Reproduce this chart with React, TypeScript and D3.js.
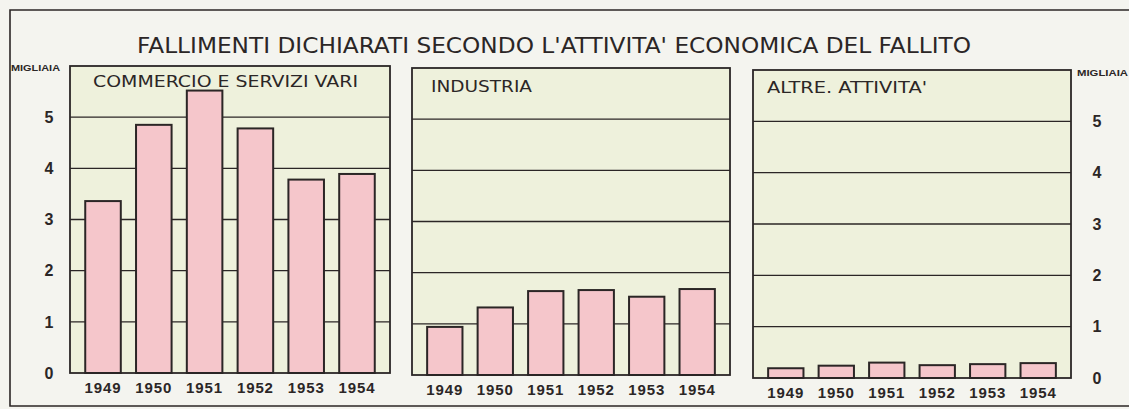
import * as d3 from 'd3'

const years = ['1949', '1950', '1951', '1952', '1953', '1954']

// migliaia di fallimenti
const commercio = [3.36, 4.85, 5.52, 4.78, 3.78, 3.89]
const industria = [0.94, 1.32, 1.64, 1.66, 1.53, 1.68]
const altre = [0.19, 0.24, 0.3, 0.25, 0.27, 0.29]

const yTicks = [0, 1, 2, 3, 4, 5]

const panelTitles = ['COMMERCIO E SERVIZI VARI', 'INDUSTRIA', "ALTRE. ATTIVITA'"]
const chartTitle = "FALLIMENTI DICHIARATI SECONDO L'ATTIVITA' ECONOMICA DEL FALLITO"

const W = 1129
const H = 409
const INK = '#2b2626'
const PAPER = '#f4f4ef'
const PANEL = '#eef1dc'
const PINK = '#f5c6cb'
const FONT = "'Liberation Sans', 'DejaVu Sans', sans-serif"
const LETTER = "'DejaVu Sans', 'Liberation Sans', sans-serif"

type Panel = {
  title: string
  values: number[]
  x0: number
  x1: number
  top: number
  bottom: number
  titleX: number
  titleY: number
  titleLen: number
}

const panels: Panel[] = [
  { title: panelTitles[0], values: commercio, x0: 70, x1: 390, top: 66, bottom: 373, titleX: 93, titleY: 87, titleLen: 265 },
  { title: panelTitles[1], values: industria, x0: 412, x1: 730, top: 68, bottom: 375, titleX: 431, titleY: 92, titleLen: 101 },
  { title: panelTitles[2], values: altre, x0: 753, x1: 1071, top: 70, bottom: 378, titleX: 767, titleY: 93, titleLen: 160 },
]

function PanelChart({ p }: { p: Panel }) {
  const x = d3.scaleBand<string>().domain(years).range([p.x0, p.x1]).paddingInner(0.3).paddingOuter(0.3)
  const y = d3.scaleLinear().domain([0, 6]).range([p.bottom, p.top])
  return (
    <g>
      <rect x={p.x0} y={p.top} width={p.x1 - p.x0} height={p.bottom - p.top} fill={PANEL} />
      {yTicks.slice(1).map((t) => (
        <line key={t} x1={p.x0} x2={p.x1} y1={y(t)} y2={y(t)} stroke={INK} strokeWidth={1.3} />
      ))}
      {years.map((yr, i) => {
        const v = p.values[i]
        return (
          <rect
            key={yr}
            x={x(yr)}
            y={y(v)}
            width={x.bandwidth()}
            height={y(0) - y(v)}
            fill={PINK}
            stroke={INK}
            strokeWidth={2}
          />
        )
      })}
      <rect
        x={p.x0}
        y={p.top}
        width={p.x1 - p.x0}
        height={p.bottom - p.top}
        fill="none"
        stroke={INK}
        strokeWidth={1.8}
      />
      <text
        x={p.titleX}
        y={p.titleY}
        fontFamily={LETTER}
        fontSize={16}
        fill={INK}
        textLength={p.titleLen}
        lengthAdjust="spacingAndGlyphs"
      >
        {p.title}
      </text>
      {years.map((yr) => (
        <text
          key={yr}
          x={(x(yr) ?? 0) + x.bandwidth() / 2}
          y={p.bottom + 20}
          textAnchor="middle"
          fontFamily={FONT}
          fontWeight="bold"
          fontSize={15}
          letterSpacing={0.9}
          fill={INK}
        >
          {yr}
        </text>
      ))}
    </g>
  )
}

export default function App() {
  const left = panels[0]
  const right = panels[2]
  const yl = d3.scaleLinear().domain([0, 6]).range([left.bottom, left.top])
  const yr = d3.scaleLinear().domain([0, 6]).range([right.bottom, right.top])
  return (
    <svg
      width={W}
      height={H}
      viewBox={`0 0 ${W} ${H}`}
      style={{ position: 'absolute', left: 0, top: 0, background: PAPER }}
    >
      <rect x={0} y={0} width={W} height={H} fill={PAPER} />
      <path d={`M1129,10 L10,10 L10,406 L1129,406`} fill="none" stroke={INK} strokeWidth={1.6} />
      <text
        x={137}
        y={53}
        fontFamily={LETTER}
        fontSize={22}
        fill={INK}
        textLength={834}
        lengthAdjust="spacingAndGlyphs"
      >
        {chartTitle}
      </text>

      <text x={11} y={71} fontFamily={FONT} fontWeight="bold" fontSize={9} fill={INK} textLength={49} lengthAdjust="spacingAndGlyphs">
        MIGLIAIA
      </text>
      <text x={1077} y={76} fontFamily={FONT} fontWeight="bold" fontSize={9} fill={INK} textLength={51} lengthAdjust="spacingAndGlyphs">
        MIGLIAIA
      </text>

      {yTicks.map((t) => (
        <text
          key={`l${t}`}
          x={49}
          y={yl(t)}
          dy="0.36em"
          textAnchor="middle"
          fontFamily={FONT}
          fontWeight="bold"
          fontSize={16}
          fill={INK}
        >
          {t}
        </text>
      ))}
      {yTicks.map((t) => (
        <text
          key={`r${t}`}
          x={1097}
          y={yr(t)}
          dy="0.36em"
          textAnchor="middle"
          fontFamily={FONT}
          fontWeight="bold"
          fontSize={16}
          fill={INK}
        >
          {t}
        </text>
      ))}

      {panels.map((p) => (
        <PanelChart key={p.title} p={p} />
      ))}
    </svg>
  )
}
